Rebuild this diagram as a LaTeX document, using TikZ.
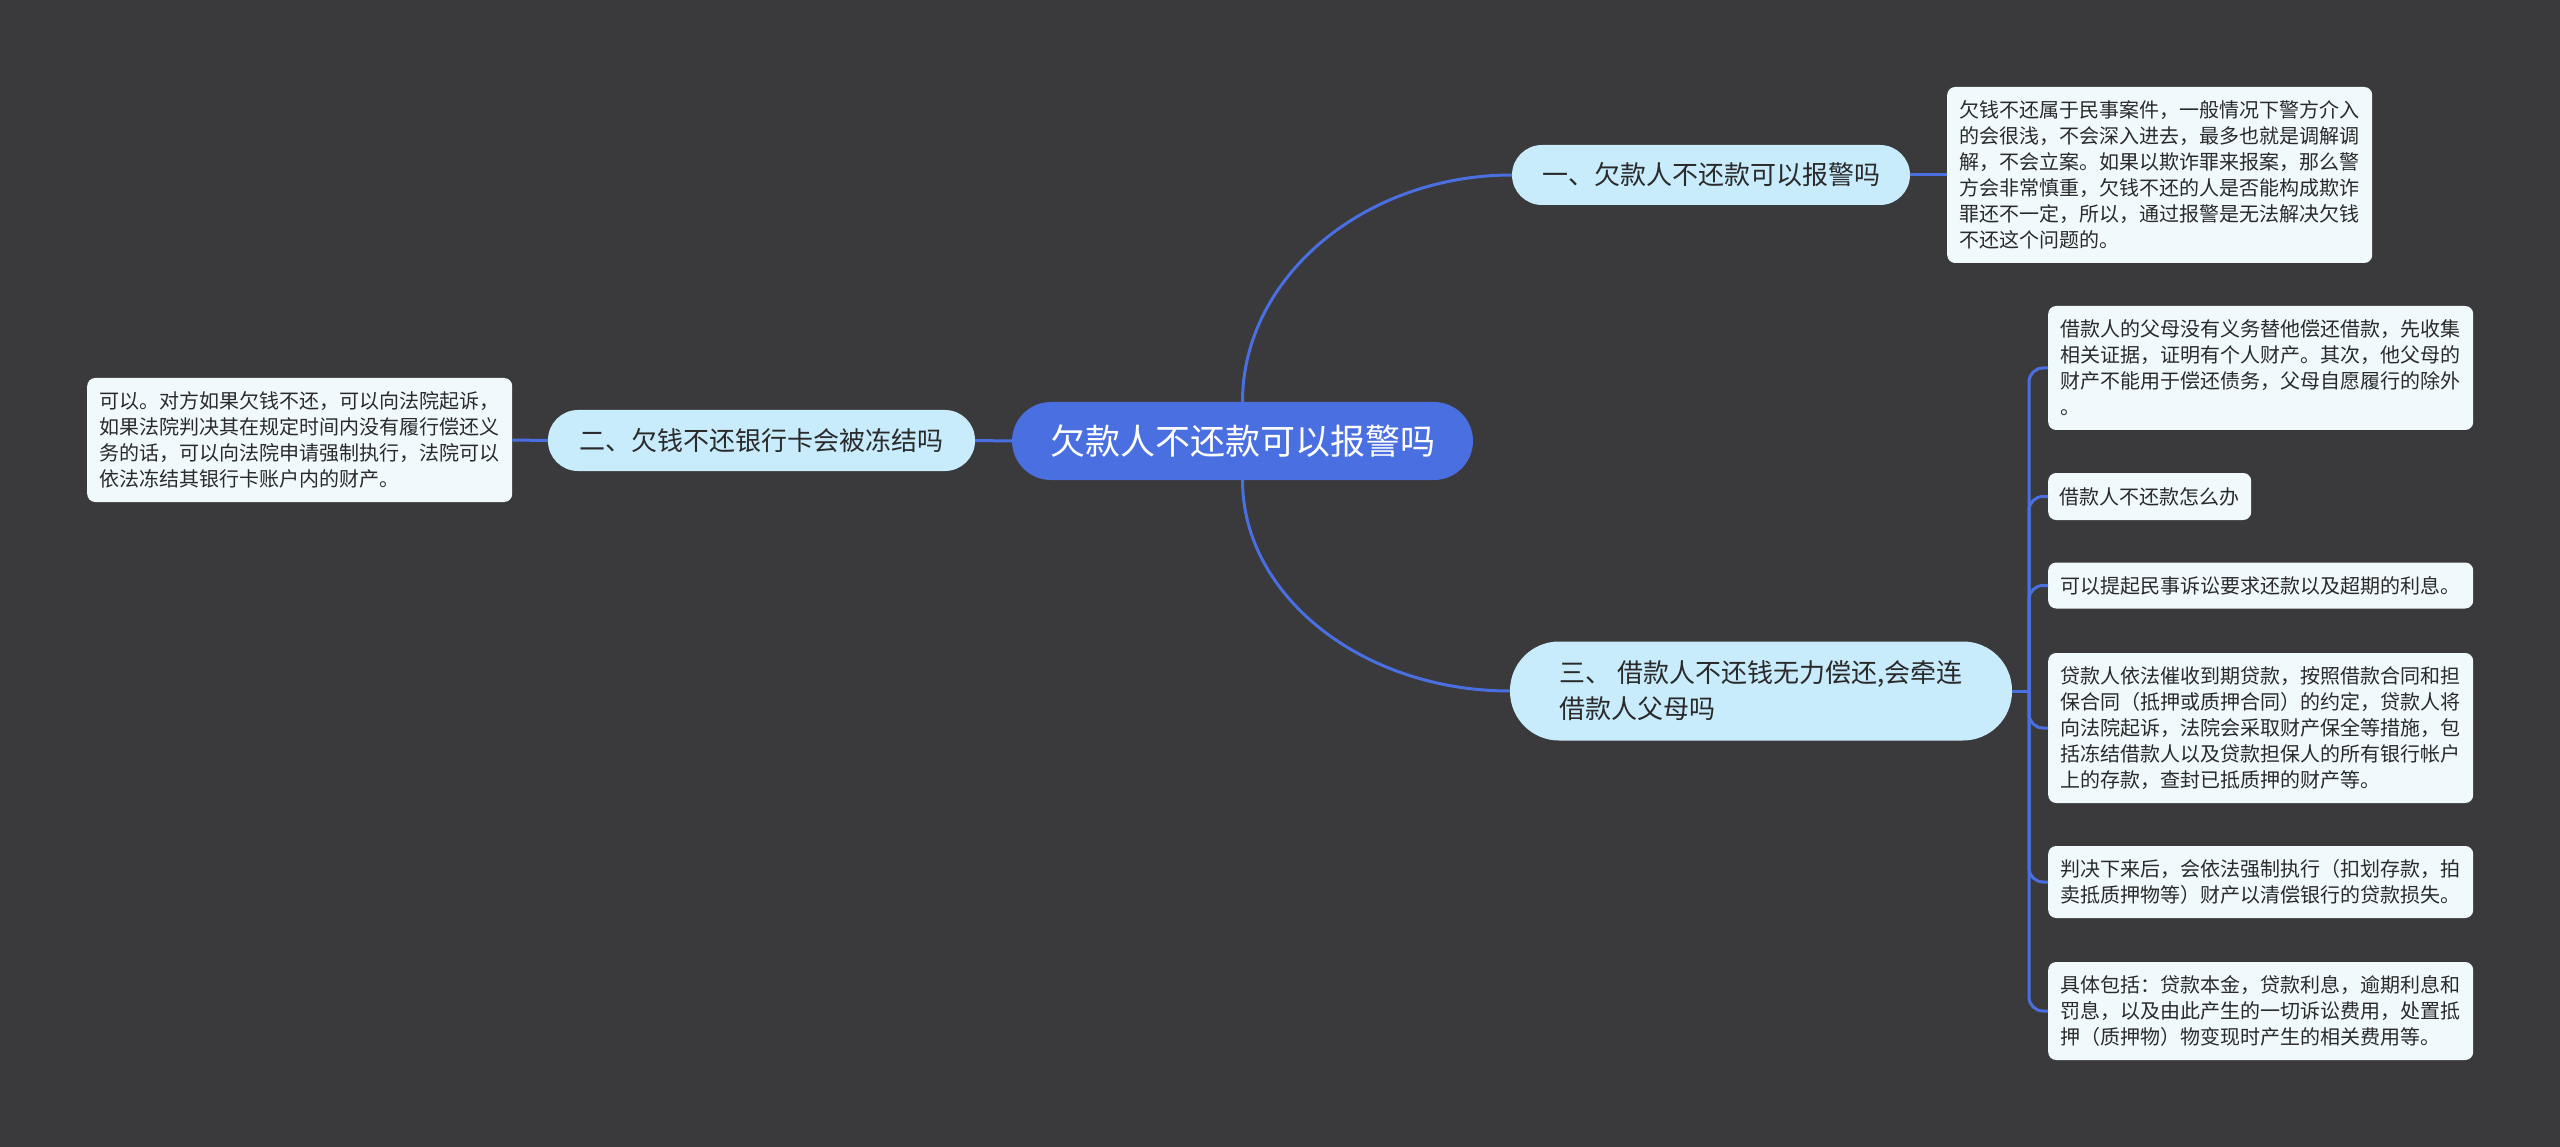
\documentclass[tikz,border=0pt]{standalone}
\usepackage{fontspec}
\newfontfamily\cjk{Noto Sans CJK SC}
\definecolor{bgc}{HTML}{3A393B}
\definecolor{rootc}{HTML}{4A6FE0}
\definecolor{linec}{HTML}{4A6FE0}
\definecolor{brc}{HTML}{C8ECFC}
\definecolor{leafc}{HTML}{F0FAFD}
\definecolor{txtc}{HTML}{2A2A2A}
\tikzset{
  rootnode/.style={draw=none, fill=rootc, text=white, inner sep=0pt, rounded corners=39pt,
    minimum width=461pt, minimum height=78pt, font=\cjk\fontsize{35pt}{42pt}\selectfont},
  brnode/.style={draw=none, fill=brc, text=txtc, inner sep=0pt, align=left,
    font=\cjk\fontsize{26pt}{36pt}\selectfont},
  leafnode/.style={draw=none, fill=leafc, text=txtc, inner sep=0pt, align=left, rounded corners=8pt,
    font=\cjk\fontsize{20pt}{26pt}\selectfont, anchor=west},
  conn/.style={draw=linec, line width=3pt},
}
\begin{document}
\begin{tikzpicture}[x=1pt, y=-1pt]
\fill[bgc] (0,0) rectangle (2560,1147);
\useasboundingbox (0,0) rectangle (2560,1147);

\node[rootnode] (root) at (1242.5,441) {欠款人不还款可以报警吗};

\node[brnode, rounded corners=30pt, minimum width=398pt, minimum height=60pt] (b1) at (1711,175) {一、欠款人不还款可以报警吗};
\node[brnode, rounded corners=30pt, minimum width=427pt, minimum height=61pt] (b2) at (761.5,440.5) {二、欠钱不还银行卡会被冻结吗};
\node[brnode, rounded corners=49pt, minimum width=502pt, minimum height=99pt] (b3) at (1761,691) {三、 借款人不还钱无力偿还,会牵连\\借款人父母吗};

\node[leafnode, minimum width=425pt, minimum height=176pt] (l1) at (1947,175) {欠钱不还属于民事案件，一般情况下警方介入\\的会很浅，不会深入进去，最多也就是调解调\\解，不会立案。如果以欺诈罪来报案，那么警\\方会非常慎重，欠钱不还的人是否能构成欺诈\\罪还不一定，所以，通过报警是无法解决欠钱\\不还这个问题的。};

\node[leafnode, minimum width=425pt, minimum height=124pt] (l2) at (87,440) {可以。对方如果欠钱不还，可以向法院起诉，\\如果法院判决其在规定时间内没有履行偿还义\\务的话，可以向法院申请强制执行，法院可以\\依法冻结其银行卡账户内的财产。};

\node[leafnode, minimum width=425pt, minimum height=124pt] (l3a) at (2048,368) {借款人的父母没有义务替他偿还借款，先收集\\相关证据，证明有个人财产。其次，他父母的\\财产不能用于偿还债务，父母自愿履行的除外\\。};
\node[leafnode, minimum width=203pt, minimum height=47pt] (l3b) at (2048,496.5) {借款人不还款怎么办};
\node[leafnode, minimum width=425pt, minimum height=46pt] (l3c) at (2048,585.5) {可以提起民事诉讼要求还款以及超期的利息。};
\node[leafnode, minimum width=425pt, minimum height=150pt] (l3d) at (2048,728) {贷款人依法催收到期贷款，按照借款合同和担\\保合同（抵押或质押合同）的约定，贷款人将\\向法院起诉，法院会采取财产保全等措施，包\\括冻结借款人以及贷款担保人的所有银行帐户\\上的存款，查封已抵质押的财产等。};
\node[leafnode, minimum width=425pt, minimum height=72pt] (l3e) at (2048,882) {判决下来后，会依法强制执行（扣划存款，拍\\卖抵质押物等）财产以清偿银行的贷款损失。};
\node[leafnode, minimum width=425pt, minimum height=98pt] (l3f) at (2048,1011) {具体包括：贷款本金，贷款利息，逾期利息和\\罚息，以及由此产生的一切诉讼费用，处置抵\\押（质押物）物变现时产生的相关费用等。};

% connectors
\draw[conn] (root.north) .. controls +(0,-125) and +(-147,0) .. (b1.west);
\draw[conn] (root.south) .. controls +(0,116) and +(-147,0) .. (b3.west);
\draw[conn] (root.west) -- (b2.east);
\draw[conn] (b2.west) -- (l2.east);
\draw[conn] (b1.east) -- (l1.west);
\coordinate (j) at (2029,691);
\draw[conn] (b3.east) -- (j);
\foreach \n in {l3a,l3b,l3c,l3d,l3e,l3f}{
  \draw[conn, rounded corners=14pt] (j) |- (\n.west);
}
\end{tikzpicture}
\end{document}
